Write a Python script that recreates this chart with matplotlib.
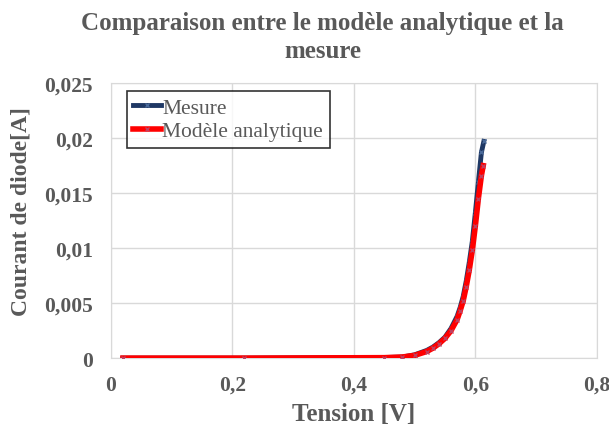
import matplotlib.pyplot as plt
from matplotlib.ticker import FuncFormatter

# Data
tension_mes = [0.02, 0.22, 0.45, 0.48, 0.50, 0.52, 0.53, 0.54, 0.55, 0.56, 0.57, 0.575, 0.58,
               0.585, 0.59, 0.595, 0.60, 0.605, 0.61, 0.614]
courant_mes = [0.0, 0.0, 0.00005, 0.0001, 0.0003, 0.0007, 0.0010, 0.0014, 0.0019, 0.0027, 0.0038,
               0.0046, 0.0056, 0.0070, 0.0087, 0.0106, 0.0132, 0.0160, 0.0187, 0.0197]

tension_mod = [0.02, 0.22, 0.45, 0.48, 0.50, 0.52, 0.53, 0.54, 0.55, 0.56, 0.57, 0.575, 0.58,
               0.585, 0.59, 0.595, 0.60, 0.605, 0.61, 0.613]
courant_mod = [0.0, 0.0, 0.00004, 0.0001, 0.00025, 0.0006, 0.0009, 0.0013, 0.0018, 0.0025, 0.0035,
               0.0043, 0.0052, 0.0065, 0.0080, 0.0098, 0.0120, 0.0145, 0.0166, 0.0175]

grey = '#595959'
plt.rcParams['font.family'] = ['Liberation Serif', 'DejaVu Serif']

fig = plt.figure(figsize=(6.09, 4.27), dpi=100)
ax = fig.add_axes([0.182, 0.159, 0.798, 0.644])

ax.plot(tension_mes, courant_mes, color='#1f3864', lw=3.5, marker='x', ms=3,
        mec='#4a6a9a', label='Mesure', zorder=3)
ax.plot(tension_mod, courant_mod, color='#ff0000', lw=4, marker='x', ms=3,
        mec='#c04060', label='Modèle analytique', zorder=4)

ax.set_xlim(0, 0.8)
ax.set_ylim(0, 0.025)
ax.set_xticks([0, 0.2, 0.4, 0.6, 0.8])
ax.set_yticks([0, 0.005, 0.01, 0.015, 0.02, 0.025])


def virgule(v, pos):
    s = ('%g' % round(v, 4))
    return s.replace('.', ',')


ax.xaxis.set_major_formatter(FuncFormatter(virgule))
ax.yaxis.set_major_formatter(FuncFormatter(virgule))
ax.grid(True, color='#d9d9d9', lw=1)
ax.set_axisbelow(True)
for s in ax.spines.values():
    s.set_color('#d9d9d9')
ax.tick_params(length=0, labelsize=15.5, labelcolor=grey)
ax.tick_params(axis='x', pad=12)
ax.tick_params(axis='y', pad=13)
for lab in ax.get_xticklabels() + ax.get_yticklabels():
    lab.set_fontweight('bold')

ax.set_xlabel('Tension [V]', fontsize=18, fontweight='bold', color=grey, labelpad=5)
ax.set_ylabel('Courant de diode[A]', fontsize=17, fontweight='bold', color=grey)
ax.yaxis.set_label_coords(-0.163, 0.538)
fig.text(0.53, 0.972, 'Comparaison entre le modèle analytique et la\nmesure', fontsize=18,
         fontweight='bold', color=grey, ha='center', va='top', linespacing=1.3)

leg = ax.legend(loc='upper left', bbox_to_anchor=(0.033, 0.97), fontsize=15.5, frameon=True,
                fancybox=False, edgecolor='black', handlelength=1.3, handletextpad=0.05,
                borderpad=0.3, labelspacing=0.15, borderaxespad=0)
leg.get_frame().set_linewidth(1.2)
for t in leg.get_texts():
    t.set_color(grey)

fig.savefig('out.png', dpi=100)
